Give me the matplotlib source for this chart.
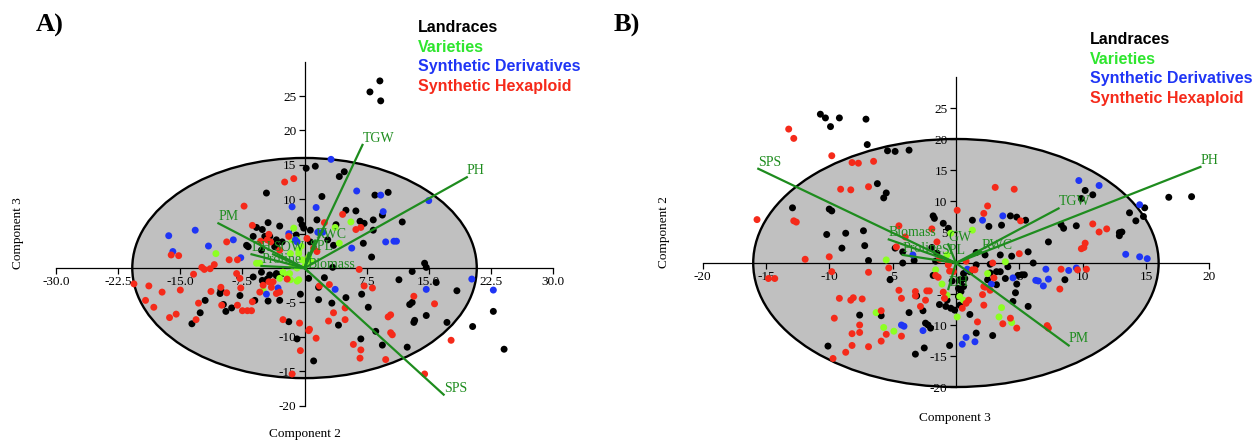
import numpy as np
import matplotlib
matplotlib.use("Agg")
import matplotlib.pyplot as plt
from matplotlib.patches import Ellipse

# ---- data ----------------------------------------------------------------
# panel A: x = Component 2, y = Component 3
a_landraces = [
    (0.2, 14.5), (-4.6, 10.9), (-4.4, 6.6), (-5.8, 5.9), (-5.1, 5.6), (-0.5, 7.0), (-0.1, 5.8),
    (-2.7, 3.8), (-3.4, 4.1), (-7.0, 3.3), (-6.8, 3.1), (-6.2, 4.6), (-1.0, 4.8), (-3.6, 3.1),
    (9.1, 27.2), (7.9, 25.6), (9.2, 24.3), (1.3, 14.8), (4.8, 14.0), (4.2, 13.3), (2.1, 10.4),
    (8.5, 10.6), (10.1, 11.0), (1.5, 7.0), (5.0, 8.4), (6.2, 8.3), (3.8, 6.3), (6.7, 6.8),
    (7.2, 6.5), (8.3, 7.0), (9.4, 7.7), (11.8, 6.7), (8.3, 5.5), (7.1, 3.6), (8.1, 1.6),
    (14.5, 0.7), (14.7, 0.1), (2.8, 4.1), (0.7, 3.8),
    (-13.6, -8.1), (-12.6, -6.5), (-12.0, -4.7), (-10.2, -3.7), (-10.1, -3.2), (-9.8, -5.3),
    (-9.5, -6.3), (-8.8, -5.8), (-7.8, -4.0), (-6.2, -1.3), (-5.2, -0.6), (-5.1, -1.8),
    (-4.5, -1.6), (-4.4, -4.8), (-6.0, -4.7), (-3.4, -1.1), (-2.7, -0.8), (-1.9, -7.8),
    (-0.9, -10.3), (-0.5, -3.8), (0.5, -1.5),
    (2.4, -1.4), (1.7, -4.6), (3.4, 0.1), (5.0, -4.3), (6.9, -3.8), (7.7, -5.7), (4.1, -8.3),
    (6.8, -10.3), (8.6, -9.2), (9.4, -11.2), (11.4, -1.7), (13.0, -0.5), (12.7, -5.3),
    (13.0, -5.0), (13.2, -7.9), (13.3, -7.6), (14.7, -6.9), (15.9, -2.1), (12.4, -11.5),
    (17.2, -7.9), (18.4, -3.3), (20.3, -8.5), (22.8, -6.3), (24.1, -11.8), (1.1, -13.5),
    (-3.0, 6.1), (-4.8, 4.6), (-4.2, 4.6), (-3.4, 3.3), (-5.2, 2.6), (-0.3, 6.3), (0.7, 5.5),
    (3.5, 3.3), (-4.2, -1.0), (-3.4, -0.8), (-5.0, -2.0), (-3.0, -4.7), (3.3, -5.1), (1.7, -2.8),
]
a_varieties = [
    (-10.7, 2.1), (-1.3, 5.8), (-1.5, 4.1), (-1.7, 2.1), (-0.7, 2.6), (-0.3, 1.2), (-5.8, 0.7),
    (5.6, 6.7), (3.7, 5.9), (4.2, 3.6), (-5.0, -3.3), (-1.8, -0.8), (-0.9, -1.9), (-2.6, -0.6),
    (-0.9, 4.1), (-0.7, 2.1), (0.5, 1.6), (-5.4, 0.7), (-1.7, -1.7), (-0.7, -1.7), (-3.0, -1.5),
    (-2.1, -1.0), (0.1, 0.4), (-0.9, 0.0), (-1.5, 0.4), (0.8, 0.9), (-0.4, 3.2),
]
a_derivatives = [
    (-16.4, 4.7), (-13.2, 5.5), (-15.9, 2.4), (-11.6, 3.2), (-8.6, 4.1), (-7.7, 1.5), (-1.5, 8.9),
    (-1.9, 5.0), (-0.9, 3.8), (-1.1, 4.1), (3.2, 15.8), (6.3, 11.2), (9.2, 10.6), (1.4, 8.8),
    (9.5, 8.2), (15.0, 9.8), (5.7, 2.9), (9.8, 3.8), (10.8, 3.9), (11.1, 3.9), (1.6, 5.2),
    (2.2, 5.2), (-4.6, -3.8), (-3.2, -2.9), (3.7, -3.1), (14.7, -3.1), (20.2, -1.6), (22.8, -3.2),
]
a_hexaploid = [
    (-2.4, 12.5), (-1.3, 13.0), (-7.3, 9.0), (-6.3, 6.2), (-4.3, 4.9), (-9.4, 3.8), (-5.3, 3.9),
    (-4.5, 4.1), (-4.1, 3.8), (-16.1, 1.9), (-15.2, 1.8), (-9.1, 1.2), (-8.1, 1.2), (-1.9, 4.6),
    (0.3, 4.3), (4.6, 7.8), (6.2, 5.6), (6.8, 5.9), (2.4, 6.6), (1.5, 2.4), (6.6, -0.2),
    (-20.6, -2.3), (-18.8, -2.6), (-19.2, -4.7), (-18.2, -5.7), (-17.2, -3.5), (-16.3, -7.2),
    (-15.5, -6.7), (-15.0, -3.2), (-13.4, -0.9), (-12.8, -5.1), (-13.1, -7.5), (-12.4, 0.1),
    (-12.1, -0.2), (-11.4, -0.1), (-10.9, 0.5), (-11.3, -3.4), (-10.1, -2.8), (-10.0, -5.4),
    (-9.4, -3.6), (-8.2, -0.8), (-7.7, -2.9), (-8.1, -5.4), (-7.5, -6.2), (-6.9, -6.2),
    (-6.4, -6.2), (-6.3, -4.9), (-5.4, -3.5), (-5.0, -2.5), (-4.0, -2.8), (-3.0, -3.5),
    (-3.4, -3.7), (-2.1, -1.6), (-2.6, -7.5), (-0.6, -8.0), (0.5, -9.1), (-0.5, -12.0),
    (-1.5, -15.4), (-4.3, -2.0),
    (1.8, -2.6), (3.0, -2.4), (7.2, -2.6), (8.2, -2.9), (3.5, -6.5), (2.9, -7.7), (4.9, -5.8),
    (4.9, -7.5), (0.6, -8.9), (1.4, -10.2), (5.9, -11.1), (6.8, -11.9), (6.7, -13.1),
    (9.8, -13.3), (10.1, -7.1), (10.4, -6.8), (10.4, -9.4), (10.6, -9.7), (13.2, -4.1),
    (15.7, -5.2), (17.7, -10.5), (14.5, -15.4),
    (-3.0, 2.6), (1.1, 2.9), (-3.8, -2.0), (-7.8, -1.5),
]
a_traits = ["TGW", "PH", "PM", "SPS", "DH", "SOW", "SPL", "RWC", "Proline", "Biomass"]
a_load_x = [7.0, 19.6, -10.4, 16.8, -6.4, -3.8, 0.5, 1.3, -5.2, 0.4]
a_load_y = [17.9, 13.2, 6.5, -18.4, 2.0, 2.0, 2.2, 4.0, 0.3, -0.5]
a_ellipse = (20.8, 16.0)

# panel B: x = Component 3, y = Component 2
b_landraces = [
    (-10.7, 24.0), (-10.3, 23.4), (-9.9, 22.0), (-9.2, 23.4), (-7.1, 23.2), (-7.0, 19.1),
    (-5.4, 18.1), (-4.8, 18.0), (-3.7, 18.2), (-6.2, 12.8), (-5.7, 10.5), (-5.5, 11.3),
    (-12.9, 8.9), (-10.0, 8.7), (-9.8, 8.4), (-10.2, 4.6), (-8.7, 4.8), (-7.3, 5.2), (-9.0, 2.4),
    (-7.2, 2.8), (-6.9, 0.4), (-4.8, 2.4), (-4.2, 1.8), (-4.2, 0.0), (-3.3, 0.4), (-1.8, 7.6),
    (-1.7, 7.2), (-1.0, 6.4), (-1.9, 2.5), (-1.6, 0.3), (-0.6, 5.6),
    (16.8, 10.6), (18.6, 10.7), (10.2, 11.7), (10.8, 11.0), (9.9, 10.4), (14.9, 8.9), (14.8, 7.5),
    (13.7, 8.1), (14.2, 6.8), (12.9, 4.9), (13.1, 5.0), (12.9, 4.4), (8.3, 6.2), (8.5, 5.6),
    (9.5, 6.0), (7.3, 3.4), (5.7, 1.8), (4.4, 1.1), (4.3, 7.6), (4.8, 7.4), (5.5, 6.9),
    (2.6, 5.9), (3.6, 6.1), (1.3, 6.9), (1.6, 1.7), (3.5, 1.3), (6.1, 0.0), (2.7, -0.2),
    (-5.2, -2.7), (-7.6, -8.4), (-5.9, -8.5), (-3.7, -8.0), (-2.6, -7.7), (-3.1, -5.3),
    (-2.4, -9.7), (-2.2, -10.0), (-2.0, -10.5), (-2.5, -13.7), (-3.2, -14.7), (-10.1, -13.4),
    (-1.3, -6.7), (-0.8, -7.0), (-0.4, -7.3), (-0.5, -13.3), (-1.8, -2.0), (-0.3, -2.9),
    (0.6, -1.7), (0.7, -2.5), (0.4, -2.9), (0.6, -3.8), (1.1, -1.4), (2.5, -2.7), (2.7, -1.6),
    (3.2, -1.4), (3.5, -1.4), (3.9, -2.5), (3.2, -3.5), (4.8, -3.4), (4.9, -2.0), (5.2, -1.9),
    (5.4, -1.9), (4.7, -4.8), (4.5, -6.2), (5.7, -7.0), (8.6, -2.7), (4.1, -0.6), (0.3, -6.8),
    (1.1, -8.3), (1.6, -11.3), (2.9, -11.7), (0.4, -4.6), (0.2, -5.4), (-0.1, -7.6),
    (-1.5, 1.6), (0.3, -2.7), (0.2, -4.1), (-0.7, -6.0), (1.6, -0.3), (2.3, 1.3),
]
b_varieties = [
    (-5.5, 0.5), (-0.4, 4.8), (-0.7, 1.3), (1.3, 5.3), (-6.3, -8.0), (-5.7, -10.4), (-4.9, -11.0),
    (-1.6, -1.1), (-1.1, -3.4), (-0.7, -5.2), (0.1, -8.7), (2.5, -1.7), (3.6, -7.2), (3.4, -8.7),
    (4.4, -9.6), (0.6, -6.0), (3.9, 0.2), (0.3, -5.4),
]
b_derivatives = [
    (-3.4, 1.3), (9.7, 13.3), (11.3, 12.5), (14.5, 9.4), (3.7, 7.6), (2.1, 6.9), (13.4, 1.4),
    (14.5, 1.0), (15.1, 0.7), (-4.3, -10.0), (-4.1, -10.2), (-2.6, -10.9), (0.9, -1.0),
    (4.5, -2.4), (6.3, -2.8), (6.5, -2.9), (7.3, -2.6), (6.9, -3.7), (7.1, -1.0), (8.9, -1.2),
    (9.5, -0.8), (2.8, -3.4), (0.8, -12.0), (0.5, -13.1), (1.5, -12.7),
]
b_hexaploid = [
    (-13.2, 21.6), (-12.8, 20.1), (-9.8, 17.3), (-8.2, 16.2), (-7.7, 16.1), (-6.5, 16.4),
    (-9.1, 11.9), (-8.3, 11.8), (-6.9, 12.3), (-15.7, 7.0), (-12.8, 6.8), (-12.6, 6.6),
    (-11.9, 0.6), (-10.0, 1.0), (-4.5, 6.0), (-4.0, 4.2), (-4.7, 2.6), (-1.9, 5.5), (-1.5, 3.4),
    (0.1, 8.5), (3.1, 12.2), (4.6, 11.9), (2.5, 9.2), (2.2, 8.0), (5.1, 6.8), (10.8, 6.3),
    (11.3, 5.0), (11.9, 5.5), (10.1, 2.5), (10.2, 3.2), (9.9, 2.3), (5.0, 1.5),
    (-14.8, -2.5), (-14.3, -2.5), (-9.8, -1.4), (-6.9, -1.5), (-5.3, -0.8), (-9.2, -5.7),
    (-8.3, -6.0), (-8.1, -5.6), (-7.4, -5.8), (-9.6, -8.9), (-7.6, -10.0), (-8.2, -11.4),
    (-7.6, -11.2), (-8.2, -13.3), (-8.7, -14.4), (-9.7, -15.4), (-6.9, -13.5), (-5.9, -7.7),
    (-5.9, -12.6), (-5.5, -11.5), (-4.3, -11.8), (-4.5, -4.4), (-4.3, -5.7), (-3.2, -4.6),
    (-3.2, -5.3), (-2.4, -6.0), (-2.8, -7.0), (-2.3, -4.5), (-2.1, -4.5), (-1.6, -2.0),
    (-1.4, -2.3), (-1.0, -4.7), (-0.9, -5.7), (-0.5, -1.3), (-0.6, -0.3),
    (1.3, -1.1), (1.5, -1.1), (2.2, -3.8), (2.3, -3.9), (2.1, -5.1), (2.7, -4.4), (3.0, -2.4),
    (1.0, -6.0), (0.8, -6.5), (0.5, -7.3), (2.2, -6.8), (1.7, -9.5), (3.7, -9.8), (4.3, -8.9),
    (4.8, -10.5), (7.2, -10.1), (7.3, -10.5), (8.2, -4.2), (8.3, -1.0), (9.6, -1.1),
    (10.3, -1.0), (2.9, 0.0), (-0.6, 0.0), (-0.2, -1.4), (0.8, 0.3), (-1.3, 0.6),
]
b_traits = ["SPS", "PH", "TGW", "PM", "Biomass", "Proline", "SPL", "GW", "RWC", "DH"]
b_load_x = [-15.6, 19.3, 8.1, 8.9, -5.3, -4.2, -1.2, -0.6, 2.0, -0.6]
b_load_y = [15.2, 15.5, 8.8, -13.3, 3.8, 1.3, 1.0, 3.0, 1.8, -4.2]
b_ellipse = (16.0, 20.0)

groups = ["Landraces", "Varieties", "Synthetic Derivatives", "Synthetic Hexaploid"]
dot_colors = ["#000000", "#8CFF22", "#1F35F5", "#F52A1A"]
text_colors = ["#000000", "#2EE62E", "#1F35F5", "#F52A1A"]
vec_color = "#1E8C1E"

SERIF = ["Liberation Serif", "DejaVu Serif"]
SANS = ["Liberation Sans", "DejaVu Sans"]


def draw_panel(ax, point_sets, traits, load_x, load_y, ell, xticks, xlabels, yticks,
               xbounds, ybounds):
    """Draws one PCA biplot with the axes crossing at the origin."""
    ax.add_patch(Ellipse((0, 0), 2 * ell[0], 2 * ell[1], facecolor="#C0C0C0",
                         edgecolor="black", lw=1.7, zorder=1))
    for pts, col in zip(point_sets, dot_colors):
        pts = np.array(pts)
        ax.scatter(pts[:, 0], pts[:, 1], s=25, color=col, edgecolors="none", zorder=3)
    for name, lx, ly in zip(traits, load_x, load_y):
        ax.plot([0, lx], [0, ly], color=vec_color, lw=1.6, zorder=4)
        ax.text(lx, ly, name, color=vec_color, fontsize=10, family=SERIF,
                ha="left", va="bottom", zorder=5)

    for side in ["top", "right"]:
        ax.spines[side].set_visible(False)
    ax.spines["left"].set_position(("data", 0))
    ax.spines["bottom"].set_position(("data", 0))
    ax.spines["left"].set_bounds(*ybounds)
    ax.spines["bottom"].set_bounds(*xbounds)
    for sp in ax.spines.values():
        sp.set_linewidth(0.9)
        sp.set_zorder(2)
    ax.set_xticks(xticks)
    ax.set_xticklabels(xlabels)
    ax.set_yticks(yticks)
    ax.set_yticklabels([str(v) for v in yticks])
    ax.tick_params(direction="out", length=4, width=0.9, pad=2, labelsize=9.5)
    for lab in ax.get_xticklabels() + ax.get_yticklabels():
        lab.set_family(SERIF)
    ax.patch.set_visible(False)


fig = plt.figure(figsize=(12.55, 4.42), dpi=100)

# panel A
ax_a = fig.add_axes([0.0381, 0.0667, 0.4091, 0.8016])
ax_a.set_xlim(-31, 31)
ax_a.set_ylim(-21, 30.5)
a_xt = [-30, -22.5, -15, -7.5, 7.5, 15, 22.5, 30]
draw_panel(ax_a, [a_landraces, a_varieties, a_derivatives, a_hexaploid],
           a_traits, a_load_x, a_load_y, a_ellipse,
           a_xt, ["%.1f" % v for v in a_xt],
           [-20, -15, -10, -5, 5, 10, 15, 20, 25], (-30, 30), (-20, 30))

# panel B
ax_b = fig.add_axes([0.5497, 0.1104, 0.4240, 0.7224])
ax_b.set_xlim(-21, 21)
ax_b.set_ylim(-21, 30.5)
b_xt = [-20, -15, -10, -5, 5, 10, 15, 20]
draw_panel(ax_b, [b_landraces, b_varieties, b_derivatives, b_hexaploid],
           b_traits, b_load_x, b_load_y, b_ellipse,
           b_xt, [str(v) for v in b_xt],
           [-20, -15, -10, -5, 5, 10, 15, 20, 25], (-20, 20), (-20, 30))


def px(x, y):
    return x / 1255, 1 - y / 442


fig.text(*px(50, 25), "A)", fontsize=19, weight="bold", family=SERIF, ha="center", va="center")
fig.text(*px(627, 25), "B)", fontsize=19, weight="bold", family=SERIF, ha="center", va="center")

for i, (g, c) in enumerate(zip(groups, text_colors)):
    fig.text(*px(418, 27 + 20 * i), g, color=c, fontsize=11.5, weight="bold",
             family=SANS, ha="left", va="center")
    fig.text(*px(1090, 39 + 20 * i), g, color=c, fontsize=11.5, weight="bold",
             family=SANS, ha="left", va="center")

fig.text(*px(305, 434), "Component 2", fontsize=9.5, family=SERIF, ha="center", va="center")
fig.text(*px(18, 233), "Component 3", fontsize=9.5, family=SERIF, ha="center", va="center",
         rotation=90)
fig.text(*px(955, 418), "Component 3", fontsize=9.5, family=SERIF, ha="center", va="center")
fig.text(*px(664, 232), "Component 2", fontsize=9.5, family=SERIF, ha="center", va="center",
         rotation=90)

fig.savefig("out.png", dpi=100)
